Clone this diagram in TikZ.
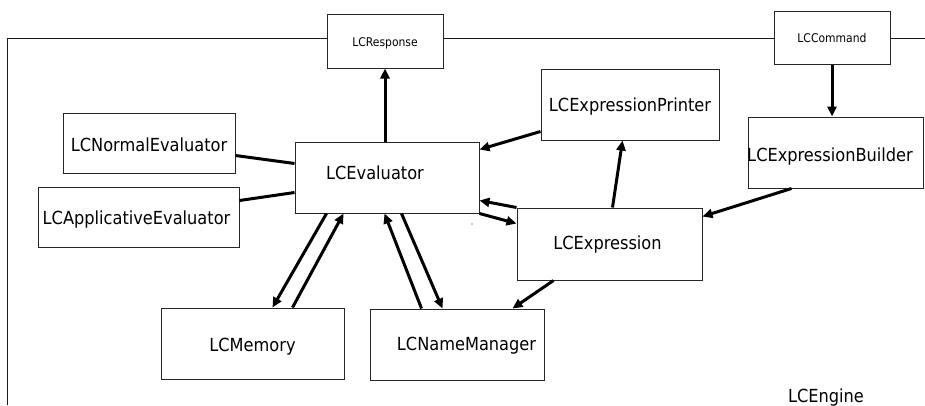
\documentclass[tikz,border=0pt]{standalone}
\usepackage{fontspec}
\setmainfont{DejaVu Sans}[FakeStretch=0.9]
\usetikzlibrary{arrows.meta}
\begin{document}
\begin{tikzpicture}[x=1pt,y=-1pt,
  box/.style={draw=black!85, line width=1pt, inner sep=0pt, anchor=center},
  big/.style={inner sep=0pt, font=\fontsize{18}{20}\selectfont, text height=13pt, text depth=0pt, anchor=center},
  small/.style={inner sep=0pt, font=\fontsize{12}{14}\selectfont, text height=8.7pt, text depth=0pt, anchor=center},
  conn/.style={line width=3pt},
  arr/.style={line width=3pt, -{Triangle[length=10pt,width=9pt]}},
  frame/.style={line width=1pt, draw=black!90}]
\useasboundingbox (0,0) rectangle (925,405);
% boxes
\node[box, minimum width=116, minimum height=54] (resp) at (385,41) {};
\node[box, minimum width=116, minimum height=53] (cmd) at (832,37.5) {};
\node[box, minimum width=178, minimum height=71] (printer) at (630,104.5) {};
\node[box, minimum width=175, minimum height=71] (builder) at (835.5,152.5) {};
\node[box, minimum width=172, minimum height=60] (normal) at (149,143) {};
\node[box, minimum width=201, minimum height=60] (applic) at (138.5,217) {};
\node[box, minimum width=184, minimum height=71] (ev) at (387,177.5) {};
\node[box, minimum width=185, minimum height=72] (expr) at (609.5,244) {};
\node[box, minimum width=183, minimum height=71] (memory) at (252.5,343.5) {};
\node[box, minimum width=174, minimum height=71] (name) at (457,344.5) {};
% texts
\node[small] (respT) at (385,42) {LCResponse};
\node[small] (cmdT) at (832,38) {LCCommand};
\node[big] (printerT) at (630,105) {LCExpressionPrinter};
\node[big] (builderT) at (830,155) {LCExpressionBuilder};
\node[big] (normalT) at (149,145) {LCNormalEvaluator};
\node[big] (applicT) at (136.5,218) {LCApplicativeEvaluator};
\node[big] (evT) at (375,173) {LCEvaluator};
\node[big] (exprT) at (607.5,243) {LCExpression};
\node[big] (memoryT) at (252.5,345) {LCMemory};
\node[big] (nameT) at (466.5,344) {LCNameManager};
\node[big] (engine) at (826,395.5) {LCEngine};
% frame
\coordinate (tl) at (7.5,38);
\coordinate (bl) at (7.5,405);
\coordinate (tr) at (925,38);
\draw[frame] (bl) -- (tl) -- (tl -| resp.west);
\draw[frame] (resp.east |- tl) -- (tl -| cmd.west);
\draw[frame] (cmd.east |- tl) -- (tr);
% connectors
\draw[arr] (resp.south |- ev.north) -- (resp.south);
\draw[arr] (cmd.south) -- (cmd.south |- builder.north);
\draw[arr] ([yshift=9pt]printer.south west) -- ([yshift=-8pt]ev.north east);
\draw[arr] ([xshift=96pt]expr.north west) -- ([xshift=82pt]printer.south west);
\draw[arr] ([xshift=44pt]builder.south west) -- ([yshift=-9pt]expr.north east);
\draw[arr] (expr.north west) -- ([yshift=13pt]ev.south east);
\draw[arr] (ev.south east) -- ([yshift=-16pt]expr.north west);
\draw[arr] ([xshift=32pt]ev.south west) -- ([xshift=112pt]memory.north west);
\draw[arr] ([xshift=132pt]memory.north west) -- ([xshift=49pt]ev.south west);
\draw[arr] ([xshift=52pt]name.north west) -- ([xshift=90pt]ev.south west);
\draw[arr] ([xshift=107pt]ev.south west) -- ([xshift=73pt]name.north west);
\draw[arr] ([xshift=37pt]expr.south west) -- ([xshift=-32pt]name.north east);
\draw[conn] ([yshift=18pt]normal.south east) -- ([yshift=-22pt]ev.north west);
\draw[conn] ([yshift=-14pt]applic.north east) -- ([yshift=21pt]ev.south west);
% stray dot
\coordinate (dot) at (472,224);
\fill (dot) circle (0.6pt);
\end{tikzpicture}
\end{document}
